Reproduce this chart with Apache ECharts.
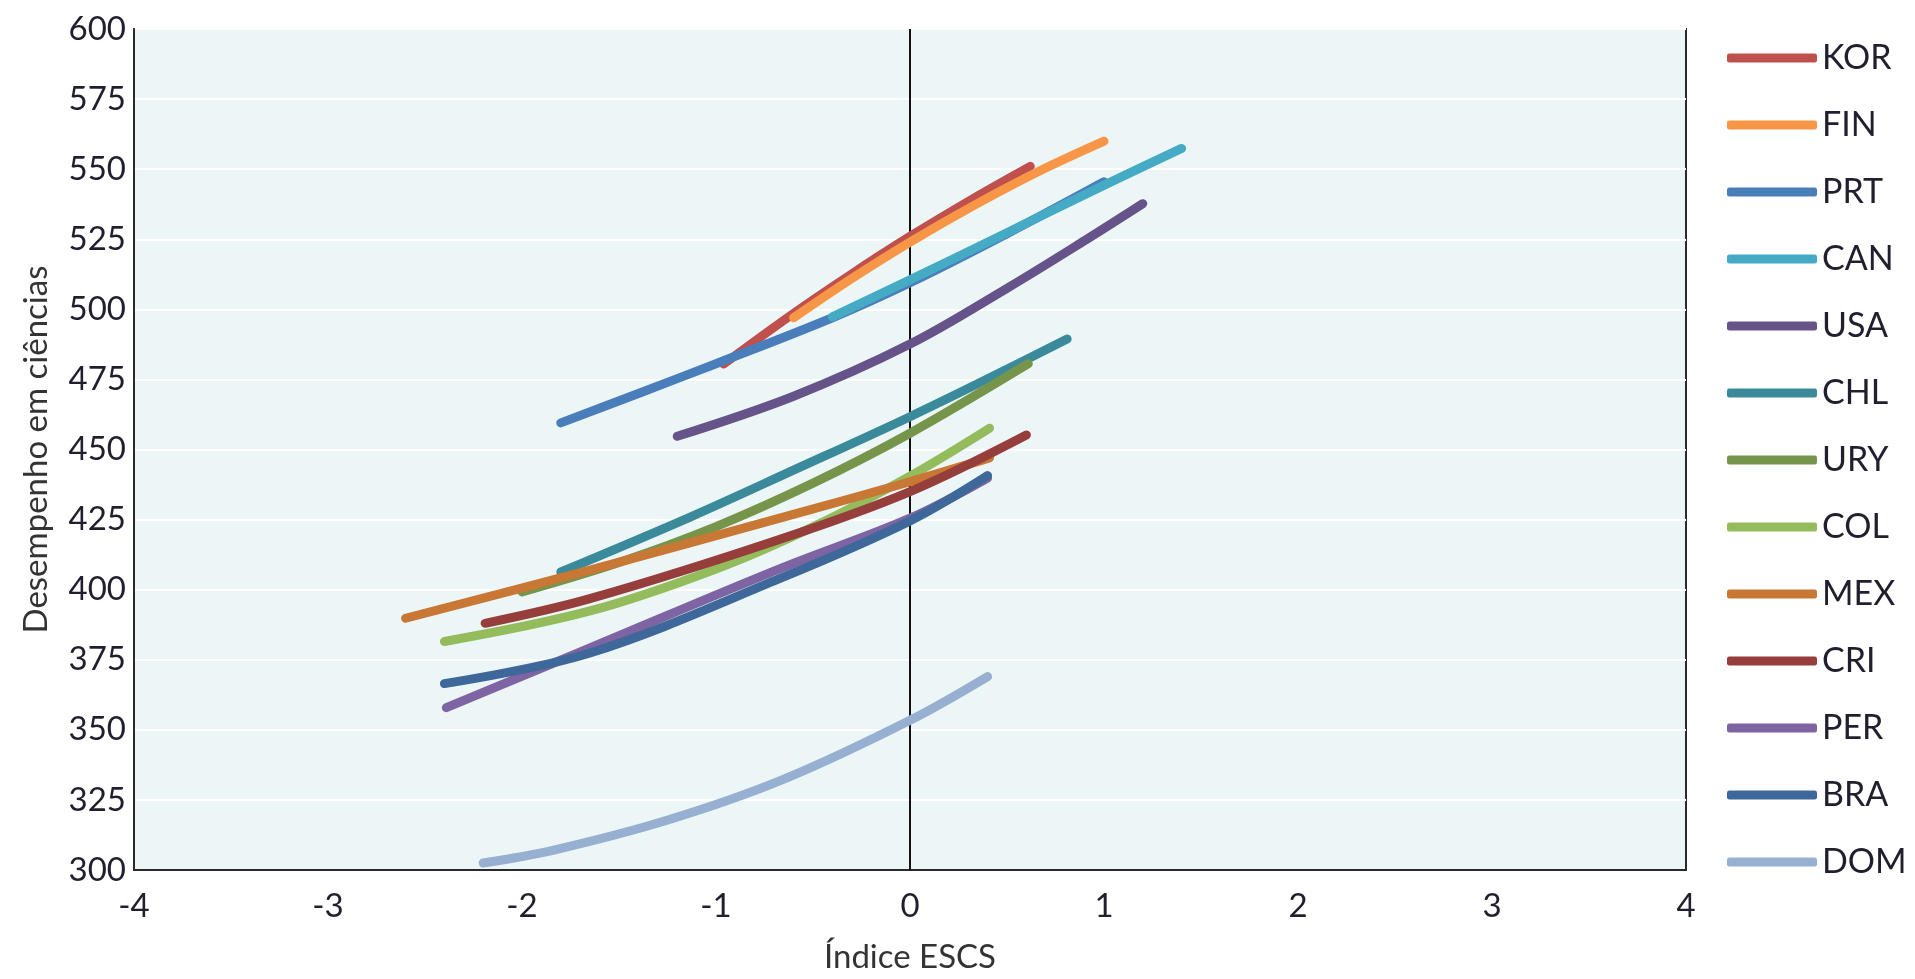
<!DOCTYPE html>
<html>
<head>
<meta charset="utf-8">
<title>Desempenho em ciências x Índice ESCS</title>
<script src="https://cdn.jsdelivr.net/npm/echarts@6/dist/echarts.min.js"></script>
<style>
  html, body { margin: 0; padding: 0; background: #ffffff; }
  #chart { width: 1915px; height: 979px; }
</style>
</head>
<body>
<div id="chart"></div>
<script>
// Country codes, in legend order
const countries = ['KOR', 'FIN', 'PRT', 'CAN', 'USA', 'CHL', 'URY', 'COL', 'MEX', 'CRI', 'PER', 'BRA', 'DOM'];

// Gradient curves: [ESCS index, science score]
const KOR = [[-0.96, 480.5], [-0.62, 497.6], [-0.31, 512.2], [0, 526], [0.33, 539.7], [0.62, 551]];
const FIN = [[-0.6, 497], [-0.3, 511], [0, 524], [0.33, 537.1], [0.66, 549.1], [1.0, 560]];
const PRT = [[-1.8, 459.5], [-1.4, 470], [-1.0, 480.6], [-0.4, 497], [0, 509.5], [0.5, 527], [1.0, 545.5]];
const CAN = [[-0.4, 497.3], [0, 510.5], [0.46, 526], [0.98, 543.6], [1.4, 557.4]];
const USA = [[-1.2, 454.7], [-0.6, 469], [0, 487.6], [0.5, 507.5], [0.9, 524.5], [1.2, 537.7]];
const CHL = [[-1.8, 406.3], [-1.13, 426], [-0.62, 442], [0, 461.7], [0.52, 479.3], [0.81, 489.4]];
const URY = [[-2.0, 399.2], [-1.5, 409.7], [-1.0, 422.5], [-0.5, 438], [0, 455.8], [0.61, 480.6]];
const COL = [[-2.4, 381.5], [-1.65, 392.4], [-1.0, 407.4], [-0.5, 422.4], [0, 440.5], [0.41, 457.6]];
const MEX = [[-2.6, 389.8], [-1.65, 407], [-0.62, 426.5], [0, 438.5], [0.41, 447]];
const CRI = [[-2.19, 388], [-1.65, 396.8], [-0.67, 418], [0, 435], [0.6, 455.2]];
const PER = [[-2.39, 357.9], [-1.65, 379.2], [-0.67, 407.5], [0, 425.5], [0.4, 439.8]];
const BRA = [[-2.4, 366.5], [-1.65, 377.4], [-0.67, 404], [0, 424.5], [0.4, 440.7]];
const DOM = [[-2.2, 302.5], [-1.83, 307.2], [-1.24, 318], [-0.65, 332.4], [0, 353.4], [0.4, 369]];

const curves = { KOR, FIN, PRT, CAN, USA, CHL, URY, COL, MEX, CRI, PER, BRA, DOM };

// Axis ranges and tick step
const xTicks = { min: -4, max: 4, step: 1 };
const yTicks = { min: 300, max: 600, step: 25 };

// Line colours per country
const palette = {
  KOR: '#C0504D', FIN: '#F79646', PRT: '#4A7EBB', CAN: '#45AAC4', USA: '#66538A',
  CHL: '#3A8A9C', URY: '#77954A', COL: '#94BB5C', MEX: '#C87734', CRI: '#953E3C',
  PER: '#7E64A3', BRA: '#3E6899', DOM: '#97AFD0'
};

const FONT = 'Lato, "Open Sans", sans-serif';
const TEXT = '#1f1f2e';

const series = countries.map((c, i) => {
  const s = {
    name: c,
    type: 'line',
    data: curves[c],
    smooth: 0.35,
    showSymbol: false,
    symbol: 'none',
    color: palette[c],
    lineStyle: { width: 9, color: palette[c], cap: 'round', join: 'round' },
    emphasis: { disabled: true },
    z: 3
  };
  if (i === 0) {
    // vertical reference line at ESCS = 0
    s.markLine = {
      silent: true,
      symbol: 'none',
      label: { show: false },
      lineStyle: { color: '#111', width: 2, type: 'solid' },
      data: [{ xAxis: 0 }],
      z: 1
    };
  }
  return s;
});

const chart = echarts.init(document.getElementById('chart'), null, { renderer: 'canvas' });
chart.setOption({
  animation: false,
  backgroundColor: '#ffffff',
  textStyle: { fontFamily: FONT, color: TEXT },
  grid: {
    left: 134, top: 29, right: 229, bottom: 102,
    show: true,
    backgroundColor: '#EDF6F7',
    borderColor: '#2a2a2a',
    borderWidth: 2,
    containLabel: false
  },
  legend: {
    orient: 'vertical',
    left: 1722,
    top: 36,
    itemWidth: 90,
    itemHeight: 9,
    itemGap: 33,
    icon: 'roundRect',
    itemStyle: { borderWidth: 0 },
    textStyle: { fontFamily: FONT, fontSize: 34, color: TEXT, lineHeight: 34, padding: [0, 0, 0, 0] },
    itemTextGap: 4,
    data: countries
  },
  xAxis: {
    type: 'value',
    min: xTicks.min,
    max: xTicks.max,
    interval: xTicks.step,
    name: 'Índice ESCS',
    nameLocation: 'middle',
    nameGap: 71,
    nameTextStyle: { fontFamily: FONT, fontSize: 33, color: '#333' },
    axisLine: { show: true, onZero: false, lineStyle: { color: '#2a2a2a', width: 2 } },
    axisTick: { show: false },
    axisLabel: { fontFamily: FONT, fontSize: 33, color: TEXT, margin: 20 },
    splitLine: { show: false }
  },
  yAxis: {
    type: 'value',
    min: yTicks.min,
    max: yTicks.max,
    interval: yTicks.step,
    name: 'Desempenho em ciências',
    nameLocation: 'middle',
    nameGap: 81,
    nameRotate: 90,
    nameTextStyle: { fontFamily: FONT, fontSize: 33, color: '#333' },
    axisLine: { show: true, onZero: false, lineStyle: { color: '#2a2a2a', width: 2 } },
    axisTick: { show: false },
    axisLabel: { fontFamily: FONT, fontSize: 33, color: TEXT, margin: 8 },
    splitLine: { show: true, lineStyle: { color: '#ffffff', width: 2 } }
  },
  series: series
});
</script>
</body>
</html>
